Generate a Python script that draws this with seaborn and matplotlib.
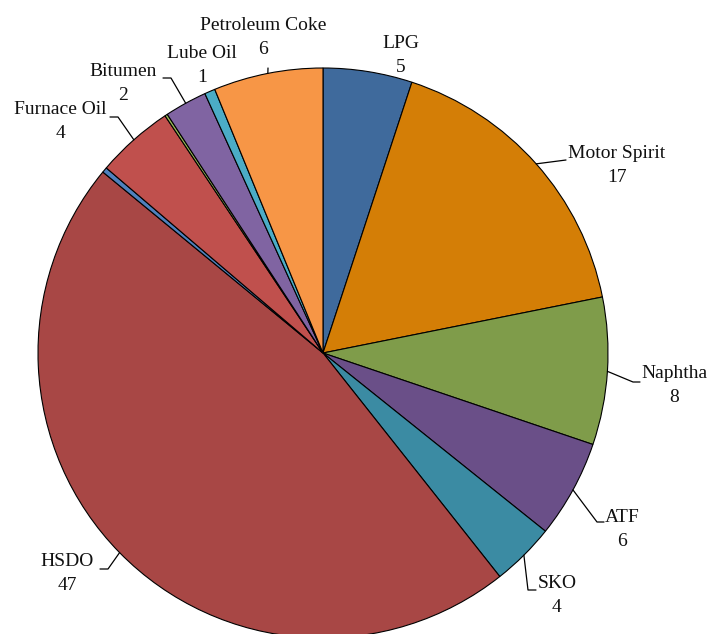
import numpy as np
import matplotlib
matplotlib.use("Agg")
import matplotlib.pyplot as plt
import seaborn as sns

# Product shares (%), clockwise from 12 o'clock
products = ["LPG", "Motor Spirit", "Naphtha", "ATF", "SKO", "HSDO", "LDO",
            "Furnace Oil", "LSHS", "Bitumen", "Lube Oil", "Petroleum Coke"]
shares = [5.05, 16.8, 8.35, 5.55, 3.6, 46.6, 0.3, 4.4, 0.15, 2.4, 0.6, 6.2]
show_label = [True, True, True, True, True, True, False, True, False, True, True, True]
colors = ["#3F6A9C", "#D47E06", "#7F9C4A", "#6A4F88", "#3B8BA3", "#A84745",
          "#4F81BD", "#C0504D", "#9BBB59", "#8064A2", "#4BACC6", "#F79646"]

# label placement in pixels: text centre, leader elbow, leader end (None = no leader)
label_pos = {
    "LPG": ((401, 56), None, None),
    "Motor Spirit": ((617, 165), (566, 160), (566, 160)),
    "Naphtha": ((674, 386), (633, 382), (640, 382)),
    "ATF": ((622, 529), (597, 522), (604, 522)),
    "SKO": ((557, 595), (528, 590), (536, 590)),
    "HSDO": ((67, 574), (108, 569), (100, 569)),
    "Furnace Oil": ((60, 121), (118, 117), (110, 117)),
    "Bitumen": ((123, 84), (171, 78), (163, 78)),
    "Lube Oil": ((202, 66), None, None),
    "Petroleum Coke": ((263, 38), (268, 68), (268, 68)),
}
LINE_GAP = 24  # px between name and value lines

W, H = 711, 634
CX, CY, R = 323, 353, 285


def px(p):
    return ((p[0] - CX) / R, (CY - p[1]) / R)


sns.set_theme(style="white")
plt.rcParams["font.family"] = ["Liberation Serif", "DejaVu Serif"]

fig = plt.figure(figsize=(W / 100, H / 100), dpi=100)
ax = fig.add_axes([0, 0, 1, 1])

wedges, _ = ax.pie(shares, startangle=90, counterclock=False,
                   colors=sns.color_palette(colors),
                   wedgeprops=dict(edgecolor="black", linewidth=0.8))

total = sum(shares)
cum = np.cumsum([0] + shares)
for i, name in enumerate(products):
    if not show_label[i]:
        continue
    mid = (cum[i] + cum[i + 1]) / 2 / total * 2 * np.pi
    edge = (np.sin(mid), np.cos(mid))
    centre, elbow, end = label_pos[name]
    if elbow is not None:
        e1, e2 = px(elbow), px(end)
        ax.plot([edge[0], e1[0], e2[0]], [edge[1], e1[1], e2[1]],
                color="black", linewidth=0.9)
    # name and value as two separate lines
    for txt, dy in [(name, -LINE_GAP / 2), (f"{round(shares[i]):.0f}", LINE_GAP / 2)]:
        tx, ty = px((centre[0], centre[1] + dy))
        ax.text(tx, ty, txt, ha="center", va="center",
                fontsize=14, color="#111111")

ax.set_aspect("auto")
ax.set_xlim(-CX / R, (W - CX) / R)
ax.set_ylim((CY - H) / R, CY / R)
ax.axis("off")

fig.savefig("out.png", dpi=100)
